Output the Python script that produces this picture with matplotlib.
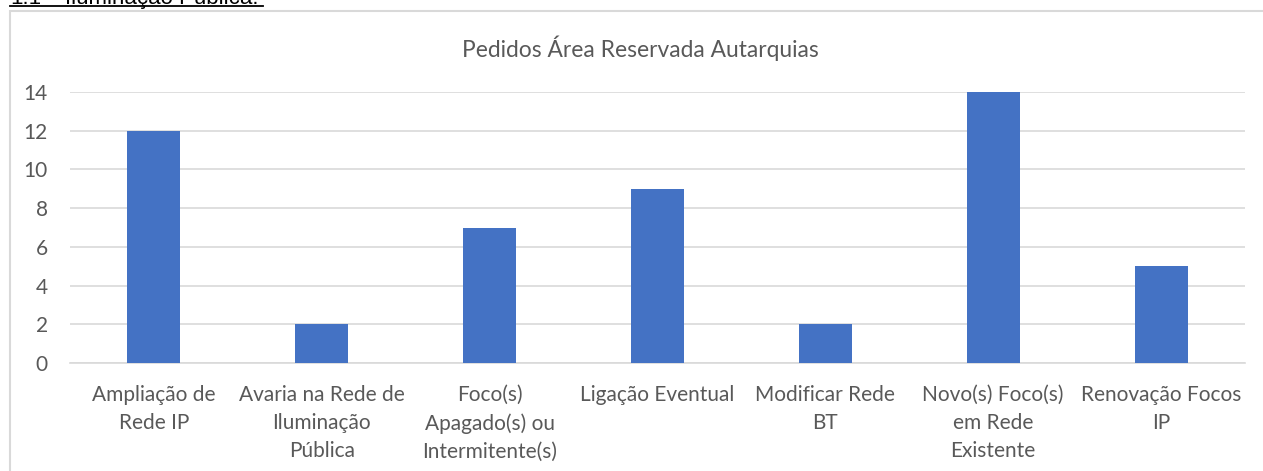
import numpy as np
import matplotlib
matplotlib.use("Agg")
from matplotlib import pyplot as plt
from matplotlib.patches import Rectangle
from matplotlib.lines import Line2D

categories = ["Ampliação de\nRede IP",
              "Avaria na Rede de\nIluminação\nPública",
              "Foco(s)\nApagado(s) ou\nIntermitente(s)",
              "Ligação Eventual",
              "Modificar Rede\nBT",
              "Novo(s) Foco(s)\nem Rede\nExistente",
              "Renovação Focos\nIP"]
values = [12, 2, 7, 9, 2, 14, 5]
yticks = [0, 2, 4, 6, 8, 10, 12, 14]

txt = '#595959'
grid = '#D9D9D9'
plt.rcParams['font.family'] = ['Lato', 'DejaVu Sans']

fig = plt.figure(figsize=(12.63, 4.71), dpi=100)
ax = fig.add_axes([70/1263, 1-363/471, (1245-70)/1263, (363-92)/471])

x = np.arange(len(values))
ax.bar(x, values, width=0.315, color='#4472C4', zorder=3)
ax.set_xlim(-0.5, len(values)-0.5)
ax.set_ylim(0, 14)
ax.set_yticks(yticks)
ax.set_xticks(x)
ax.set_xticklabels(categories, fontsize=15, color=txt, linespacing=1.48)
ax.tick_params(axis='y', labelsize=15, labelcolor=txt, length=0, pad=16)
ax.tick_params(axis='x', length=0, pad=16)
ax.yaxis.grid(True, color=grid, lw=1.2, zorder=0)
for s in ['top', 'right', 'left']:
    ax.spines[s].set_visible(False)
ax.spines['bottom'].set_color(grid)
ax.spines['bottom'].set_linewidth(1.2)

fig.text(640/1263, 1-48/471, 'Pedidos Área Reservada Autarquias',
         ha='center', va='center', fontsize=16.4, color=txt)

# chart border (only left and top visible in the crop)
fig.patches.append(Rectangle((10/1263, -0.2), 2, 1.2 - 11/471, transform=fig.transFigure,
                             fill=False, edgecolor=grid, lw=1.5))

# section header cut at top of page
hdr = dict(va='baseline', fontsize=16, color='black', family=['Liberation Sans', 'DejaVu Sans'])
fig.text(10/1263, 1-4/471, '1.1', ha='left', **hdr)
fig.text(65/1263, 1-4/471, 'Iluminação Pública.', ha='left', **hdr)
fig.add_artist(Line2D([10/1263, 263/1263], [1-5.5/471, 1-5.5/471], color='black', lw=1.3,
                      transform=fig.transFigure))

fig.savefig('out.png', dpi=100)
